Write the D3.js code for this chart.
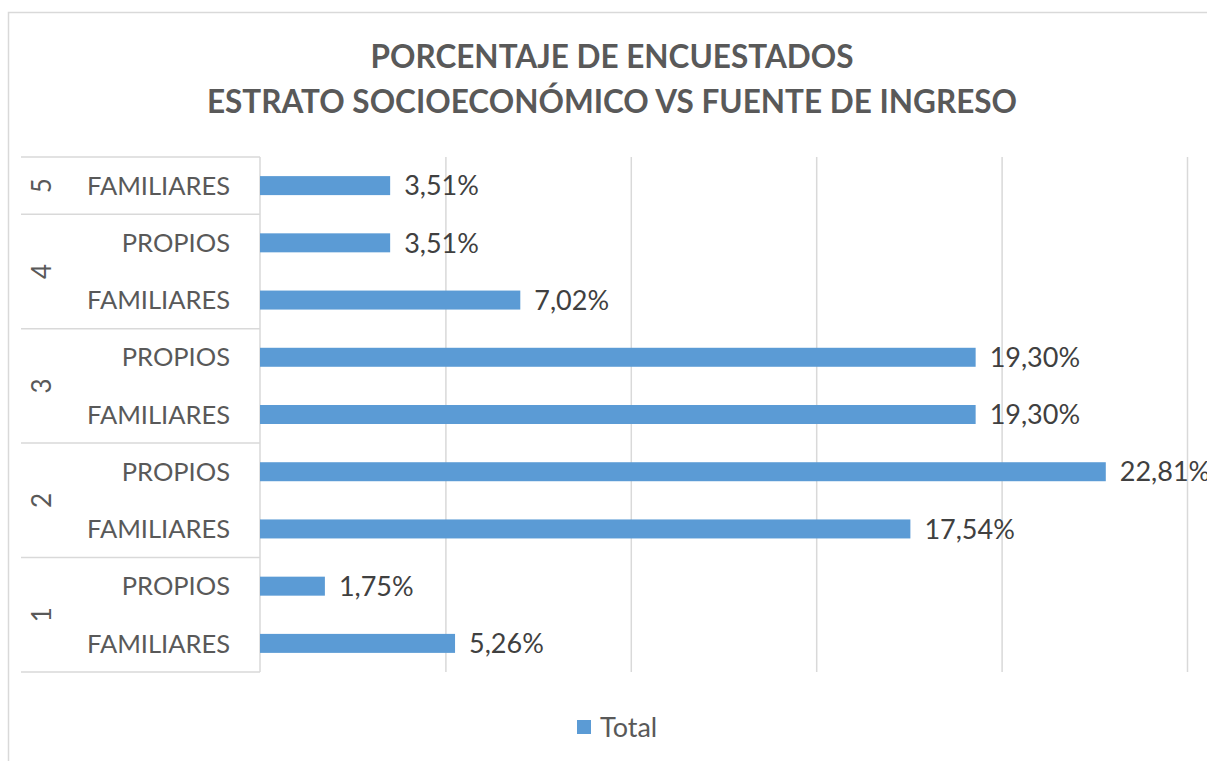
<!DOCTYPE html>
<html>
<head>
<meta charset="utf-8">
<script src="https://cdn.jsdelivr.net/npm/d3@7"></script>
<style>
  body { margin: 0; background: #fff; }
  text { font-family: Lato, "Open Sans", sans-serif; }
</style>
</head>
<body>
<svg id="chart"></svg>
<script>
// data, bottom to top as in the chart
const estratos = ['1', '1', '2', '2', '3', '3', '4', '4', '5'];
const fuentes = ['FAMILIARES', 'PROPIOS', 'FAMILIARES', 'PROPIOS', 'FAMILIARES', 'PROPIOS', 'FAMILIARES', 'PROPIOS', 'FAMILIARES'];
const valores = [5.26, 1.75, 17.54, 22.81, 19.30, 19.30, 7.02, 3.51, 3.51];
const xTicks = [0, 5, 10, 15, 20, 25];
const titulo = ['PORCENTAJE DE ENCUESTADOS', 'ESTRATO SOCIOECONÓMICO VS FUENTE DE INGRESO'];
const serie = 'Total';

const w = 1207, h = 761;
const plot = { left: 260, right: 1187, top: 157, bottom: 672 };

let dataset = valores.map((v, i) => ({
  key: i,
  estrato: estratos[i],
  fuente: fuentes[i],
  value: v
}));

const svg = d3.select('#chart')
  .attr('width', w)
  .attr('height', h);

// chart area border
svg.append('rect')
  .attr('x', 8.5).attr('y', 12.5)
  .attr('width', w).attr('height', h)
  .attr('fill', 'none')
  .attr('stroke', '#d9d9d9')
  .attr('stroke-width', 1.5);

// title
svg.append('g').selectAll('text')
  .data(titulo)
  .enter()
  .append('text')
  .attr('x', 612)
  .attr('y', (d, i) => 68 + i * 45)
  .attr('text-anchor', 'middle')
  .attr('font-size', 31.5)
  .attr('font-weight', 'bold')
  .attr('fill', '#595959')
  .text((d) => d);

const xScale = d3.scaleLinear()
  .domain([0, 25])
  .range([plot.left, plot.right]);

const yScale = d3.scaleBand()
  .domain(dataset.map((d) => d.key))
  .range([plot.bottom, plot.top])
  .paddingInner(0.668)
  .paddingOuter(0.334);

// gridlines
const grid = d3.axisBottom(xScale)
  .tickValues(xTicks.slice(1))
  .tickSize(-(plot.bottom - plot.top))
  .tickFormat('');

svg.append('g')
  .attr('transform', `translate(0, ${plot.bottom})`)
  .call(grid)
  .call((g) => g.select('.domain').remove())
  .call((g) => g.selectAll('line').attr('stroke', '#d9d9d9').attr('stroke-width', 1.5));

// category axis line
svg.append('line')
  .attr('x1', plot.left).attr('x2', plot.left)
  .attr('y1', plot.top).attr('y2', plot.bottom)
  .attr('stroke', '#d9d9d9').attr('stroke-width', 1.5);

// bars
svg.selectAll('rect.bar')
  .data(dataset, (d) => d.key)
  .enter()
  .append('rect')
  .attr('class', 'bar')
  .attr('x', xScale(0))
  .attr('y', (d) => yScale(d.key))
  .attr('width', (d) => xScale(d.value) - xScale(0))
  .attr('height', yScale.bandwidth())
  .attr('fill', '#5b9bd5');

// data labels
const fmt = (v) => v.toFixed(2).replace('.', ',') + '%';
svg.selectAll('text.lbl')
  .data(dataset)
  .enter()
  .append('text')
  .attr('class', 'lbl')
  .attr('x', (d) => xScale(d.value) + 14)
  .attr('y', (d) => yScale(d.key) + yScale.bandwidth() / 2)
  .attr('dy', '0.36em')
  .attr('font-size', 27)
  .attr('fill', '#404040')
  .text((d) => fmt(d.value));

// sub category labels
svg.selectAll('text.sub')
  .data(dataset)
  .enter()
  .append('text')
  .attr('class', 'sub')
  .attr('x', 230)
  .attr('y', (d) => yScale(d.key) + yScale.bandwidth() / 2)
  .attr('dy', '0.36em')
  .attr('text-anchor', 'end')
  .attr('font-size', 25.5)
  .attr('fill', '#595959')
  .text((d) => d.fuente);

// group labels and separators
const step = yScale.step();
const groups = d3.groups(dataset, (d) => d.estrato).map(([k, items]) => {
  let ys = items.map((d) => yScale(d.key));
  let top = d3.min(ys) - (step - yScale.bandwidth()) / 2;
  let bottom = d3.max(ys) + yScale.bandwidth() + (step - yScale.bandwidth()) / 2;
  return { estrato: k, top: top, bottom: bottom };
});

let bounds = [plot.bottom].concat(groups.map((g) => g.top));
svg.selectAll('line.sep')
  .data(bounds)
  .enter()
  .append('line')
  .attr('class', 'sep')
  .attr('x1', 21).attr('x2', plot.left)
  .attr('y1', (d) => d).attr('y2', (d) => d)
  .attr('stroke', '#d9d9d9').attr('stroke-width', 1.5);

svg.selectAll('text.grp')
  .data(groups)
  .enter()
  .append('text')
  .attr('class', 'grp')
  .attr('transform', (d) => `translate(42, ${(d.top + d.bottom) / 2}) rotate(-90)`)
  .attr('dy', '0.36em')
  .attr('text-anchor', 'middle')
  .attr('font-size', 26)
  .attr('fill', '#595959')
  .text((d) => d.estrato);

// legend
const legend = svg.append('g').attr('transform', 'translate(577, 727)');
legend.append('rect')
  .attr('x', 0).attr('y', -7)
  .attr('width', 14).attr('height', 14)
  .attr('fill', '#5b9bd5');
legend.append('text')
  .attr('x', 23)
  .attr('dy', '0.36em')
  .attr('font-size', 27)
  .attr('fill', '#595959')
  .text(serie);
</script>
</body>
</html>
